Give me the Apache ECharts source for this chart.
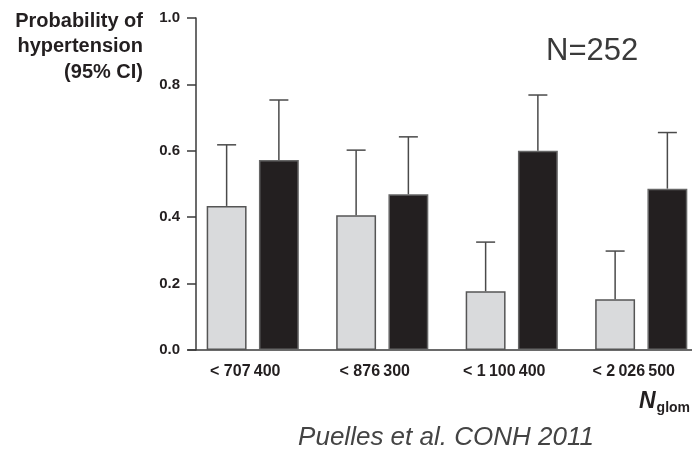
<!DOCTYPE html>
<html>
<head>
<meta charset="utf-8">
<script src="https://cdn.jsdelivr.net/npm/echarts@6/dist/echarts.min.js"></script>
<style>
  html, body { margin: 0; padding: 0; background: #fff; }
  #chart { width: 692px; height: 451px; }
</style>
</head>
<body>
<div id="chart"></div>
<script>
// values
const categories = ['< 707\u2009400', '< 876\u2009300', '< 1\u2009100\u2009400', '< 2\u2009026\u2009500']
const lightValues = [0.434, 0.406, 0.177, 0.153]
const lightUpper = [0.618, 0.602, 0.325, 0.298]
const darkValues = [0.572, 0.469, 0.600, 0.486]
const darkUpper = [0.753, 0.642, 0.768, 0.655]
const yTitleLines = ['Probability of', 'hypertension', '(95% CI)']

const BAR_FRAC = 0.308  // bar width / band width
const GAP_FRAC = 0.31   // gap between the two bars / bar width
const CAP = 19

const ink = '#231f20'
const font = '"Liberation Sans", Arial, sans-serif'

// error bar (upper whisker only) drawn next to its bar
const whisker = (side) => function (params, api) {
  const band = api.size([1, 0])[0]
  const off = side * band * BAR_FRAC * (1 + GAP_FRAC) / 2
  const base = api.coord([api.value(0), api.value(1)])
  const top = api.coord([api.value(0), api.value(2)])
  const x = base[0] + off
  const style = { stroke: '#4a4a4a', lineWidth: 1.5 }
  return {
    type: 'group',
    children: [
      { type: 'line', shape: { x1: x, y1: base[1], x2: x, y2: top[1] }, style },
      { type: 'line', shape: { x1: x - CAP / 2, y1: top[1], x2: x + CAP / 2, y2: top[1] }, style }
    ]
  }
}

const chart = echarts.init(document.getElementById('chart'), null, { renderer: 'canvas' })

chart.setOption({
  animation: false,
  backgroundColor: '#fff',
  textStyle: { fontFamily: font },
  // the last band runs past the right edge in the original figure
  grid: { left: 188, width: 518, top: 18, bottom: 101, outerBoundsMode: 'none', containLabel: false },
  xAxis: {
    type: 'category',
    data: categories,
    axisLine: { lineStyle: { color: '#3a3a3a', width: 1.5 } },
    axisTick: { show: false },
    axisLabel: {
      margin: 14, color: ink, fontSize: 16, fontWeight: 'bold', fontFamily: font,
      padding: [0, 15, 0, 0]
    }
  },
  yAxis: {
    type: 'value',
    min: 0,
    max: 1,
    interval: 0.2,
    offset: -8,
    splitLine: { show: false },
    axisLine: { show: true, lineStyle: { color: '#3a3a3a', width: 1.5 } },
    axisTick: { show: true, length: 9, lineStyle: { color: '#3a3a3a', width: 1.5 } },
    axisLabel: {
      margin: 16, color: ink, fontSize: 15, fontWeight: 'bold', fontFamily: font,
      formatter: v => v.toFixed(1)
    }
  },
  series: [
    {
      type: 'bar',
      data: lightValues,
      barWidth: (BAR_FRAC * 100) + '%',
      barGap: (GAP_FRAC * 100) + '%',
      itemStyle: { color: '#d9dadc', borderColor: '#555', borderWidth: 1.5 }
    },
    {
      type: 'bar',
      data: darkValues,
      barWidth: (BAR_FRAC * 100) + '%',
      barGap: (GAP_FRAC * 100) + '%',
      itemStyle: { color: ink, borderColor: '#666', borderWidth: 1.5 }
    },
    {
      type: 'custom',
      renderItem: whisker(-1),
      data: lightValues.map((v, i) => [i, v, lightUpper[i]]),
      z: 3
    },
    {
      type: 'custom',
      renderItem: whisker(1),
      data: darkValues.map((v, i) => [i, v, darkUpper[i]]),
      z: 3
    }
  ],
  graphic: [
    ...yTitleLines.map((t, i) => ({
      type: 'text', x: 143, y: 21 + i * 25.5,
      style: { text: t, align: 'right', verticalAlign: 'middle', fill: ink, font: 'bold 20px ' + font }
    })),
    {
      type: 'text', left: 546, top: 36,
      style: { text: 'N=252', fill: '#3a3a3a', font: '31px ' + font }
    },
    {
      type: 'text', x: 639, y: 402,
      style: {
        text: '{n|N}{s|glom}', verticalAlign: 'middle',
        rich: {
          n: { font: 'italic bold 23px ' + font, fill: ink },
          s: { font: 'bold 14px ' + font, fill: ink, padding: [12, 0, 0, 1] }
        }
      }
    },
    {
      type: 'text', x: 446, y: 438,
      style: { text: 'Puelles et al. CONH 2011', align: 'center', verticalAlign: 'middle', fill: '#444', font: 'italic 26px ' + font }
    }
  ]
})
</script>
</body>
</html>
